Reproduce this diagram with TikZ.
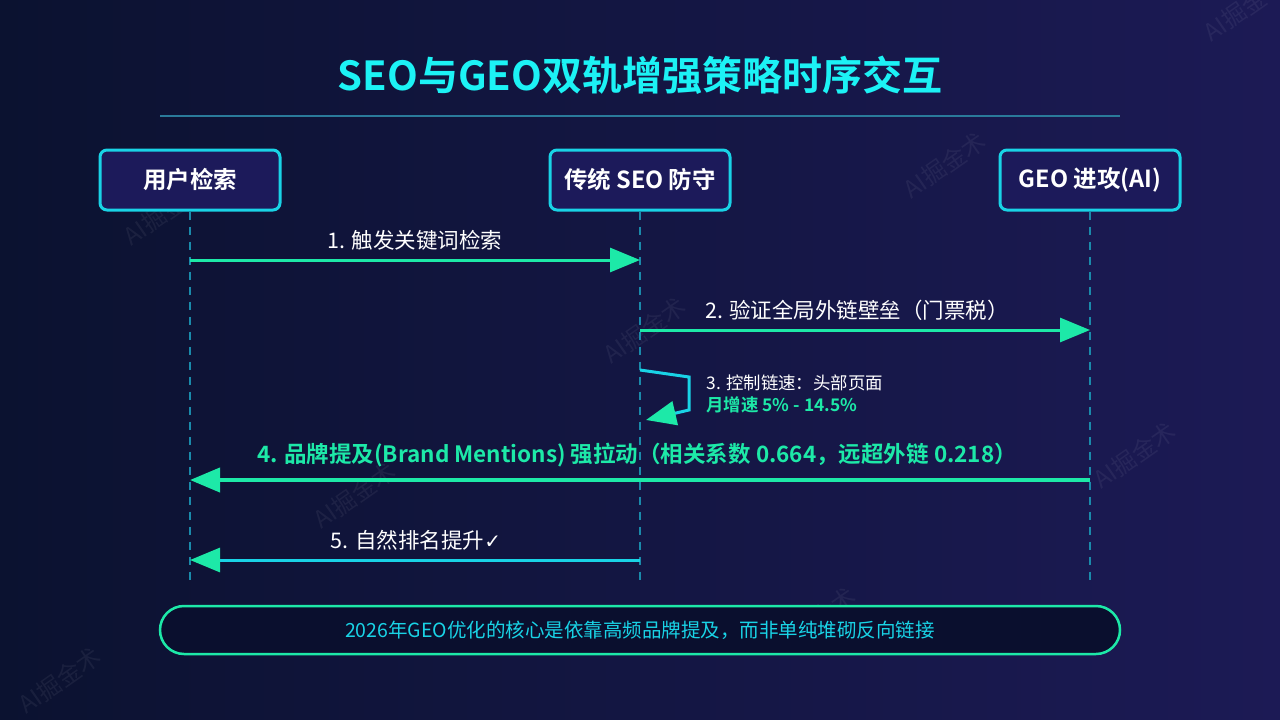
\documentclass[tikz,border=0pt]{standalone}
\usepackage{fontspec}
\setmainfont{Noto Sans CJK SC}
\newfontfamily\cjkb{Noto Sans CJK SC Bold}
\newfontfamily\symf{DejaVu Sans}
\usetikzlibrary{arrows.meta}
\definecolor{bgl}{HTML}{0B1230}
\definecolor{bgr}{HTML}{1C1A55}
\definecolor{titlec}{HTML}{1CF2F5}
\definecolor{cyanb}{HTML}{19D3E6}
\definecolor{boxfill}{HTML}{1C1A5A}
\definecolor{greenm}{HTML}{1DE9A8}
\definecolor{lifec}{HTML}{1A8AAA}
\definecolor{rulec}{HTML}{2A7A9A}
\definecolor{notefill}{HTML}{0A0F2E}
\tikzset{
  actor/.style={draw=cyanb, line width=3pt, fill=boxfill, rounded corners=7pt,
    minimum width=180pt, minimum height=60pt, text=white, font=\cjkb\fontsize{23.5pt}{27pt}\selectfont},
  lifeline/.style={draw=lifec, line width=2pt, dash pattern=on 8pt off 7pt},
  gtip/.style={-{Triangle[length=30pt,width=24pt,color=greenm,fill=greenm]}},
  msg/.style={draw=greenm, line width=3pt, gtip},
  msgc/.style={draw=cyanb, line width=3pt, gtip},
  lbl/.style={text=white, font=\fontsize{21.5pt}{25pt}\selectfont},
  wm/.style={text=white, opacity=0.06, rotate=35, font=\fontsize{24pt}{28pt}\selectfont}
}
\begin{document}
\begin{tikzpicture}[x=1pt,y=-1pt]
\useasboundingbox (0,0) rectangle (1280,720);
\shade[left color=bgl, right color=bgr] (0,0) rectangle (1280,720);
% watermarks
\foreach \p in {(1245,8),(165,212),(945,165),(645,330),(355,495),(1135,455),(815,620),(60,680)}
  \node[wm] at \p {AI掘金术};
% title
\node[text=titlec, font=\cjkb\fontsize{40pt}{46pt}\selectfont] (title) at (640,75) {SEO与GEO双轨增强策略时序交互};
\draw[rulec, line width=2pt] (160,116) -- (1120,116);
% actors
\node[actor] (u) at (190,180) {用户检索};
\node[actor] (s) at (640,180) {传统 SEO 防守};
\node[actor] (g) at (1090,180) {GEO 进攻(AI)};
\coordinate (ue) at (190,585);
\coordinate (se) at (640,585);
\coordinate (ge) at (1090,585);
\draw[lifeline] (u.south) -- (ue);
\draw[lifeline] (s.south) -- (se);
\draw[lifeline] (g.south) -- (ge);
% message anchors
\coordinate (u1) at (190,260); \coordinate (s1) at (640,260);
\coordinate (s2) at (640,330); \coordinate (g2) at (1090,330);
\coordinate (s3a) at (640,370); \coordinate (s3b) at (646,420);
\coordinate (g4) at (1090,480); \coordinate (u4) at (190,480);
\coordinate (s5) at (640,560); \coordinate (u5) at (190,560);
% 1
\draw[msg] (u1) -- (s1);
\node[lbl] (l1) at (415,240) {1. 触发关键词检索};
% 2
\draw[msg] (s2) -- (g2);
\node[lbl] (l2) at (857,310) {2. 验证全局外链壁垒（门票税）};
% 3
\draw[msgc] (s3a) -- (689,377) -- (689,410) -- (s3b);
\node[lbl, anchor=west, font=\fontsize{17.4pt}{21pt}\selectfont] (l3) at (703,383) {3. 控制链速：头部页面};
\node[anchor=west, text=greenm, font=\cjkb\fontsize{17.4pt}{21pt}\selectfont] (l3b) at (703,405) {月增速 5\% - 14.5\%};
% 4
\draw[msg, line width=4pt] (g4) -- (u4);
\node[text=greenm, font=\cjkb\fontsize{22.5pt}{26pt}\selectfont] (l4) at (637,455) {4. 品牌提及(Brand Mentions) 强拉动（相关系数 0.664，远超外链 0.218）};
% 5
\draw[msgc] (s5) -- (u5);
\node[lbl] (l5) at (416,540) {5. 自然排名提升{\symf\fontsize{20pt}{24pt}\selectfont ✓}};
% note
\node[draw=greenm, line width=2.5pt, fill=notefill, rounded corners=24pt,
  minimum width=960pt, minimum height=48pt, text=cyanb, font=\fontsize{19.5pt}{23pt}\selectfont]
  (note) at (640,630) {2026年GEO优化的核心是依靠高频品牌提及，而非单纯堆砌反向链接};
\end{tikzpicture}
\end{document}
